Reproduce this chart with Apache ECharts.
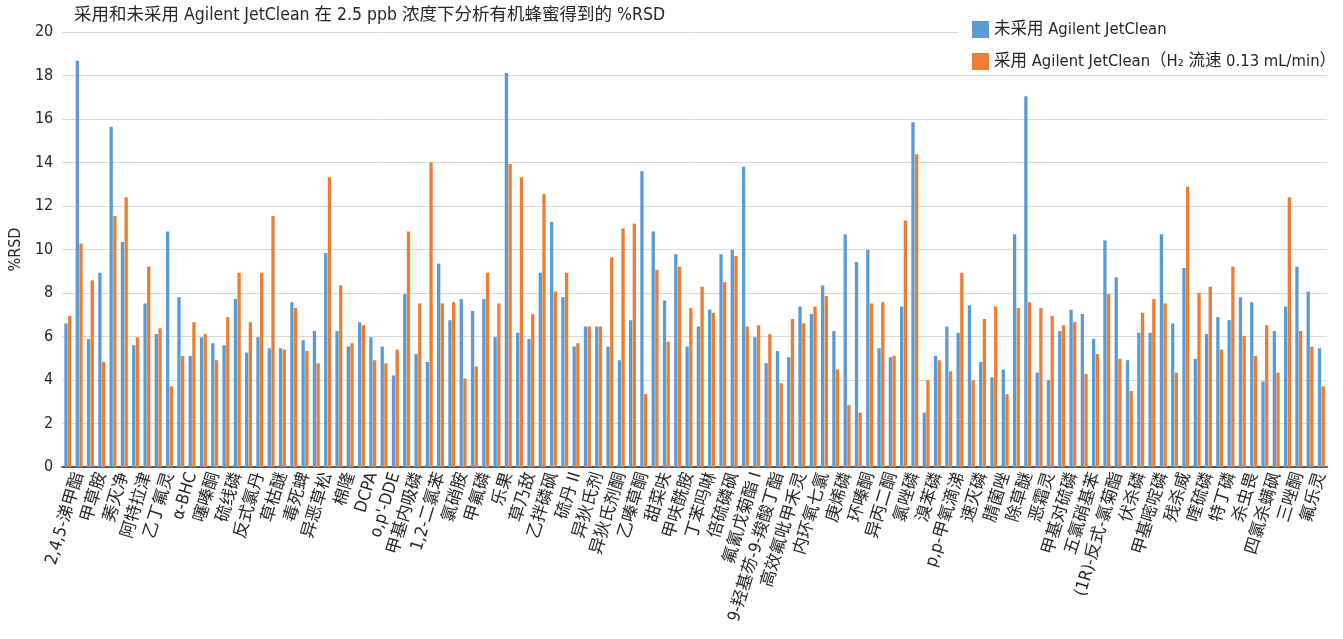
<!DOCTYPE html>
<html><head><meta charset="utf-8">
<script src="https://cdn.jsdelivr.net/npm/echarts@6/dist/echarts.min.js"></script>
<style>html,body{margin:0;padding:0;background:#fff}#c{width:1343px;height:639px}</style>
</head><body><div id="c"></div>
<script>
const titleText = '采用和未采用 Agilent JetClean 在 2.5 ppb 浓度下分析有机蜂蜜得到的 %RSD';
const seriesNames = ['未采用 Agilent JetClean', '采用 Agilent JetClean（H₂ 流速 0.13 mL/min）'];
// visible labels (every second category carries a label)
const labels = ['2,4,5-涕甲酯','甲草胺','莠灭净','阿特拉津','乙丁氟灵','α-BHC','噻嗪酮','硫线磷','反式氯丹','草枯醚',
  '毒死蜱','异恶草松','棉隆','DCPA',"o,p'-DDE",'甲基内吸磷','1,2-二氯苯','氯硝胺','甲氟磷','乐果',
  '草乃敌','乙拌磷砜','硫丹 II','异狄氏剂','异狄氏剂酮','乙嗪草酮','甜菜呋','甲呋酰胺','丁苯吗啉','倍硫磷砜',
  '氟氰戊菊酯 I','9-羟基芴-9-羧酸丁酯','高效氟吡甲禾灵','内环氧七氯','庚烯磷','环嗪酮','异丙二酮','氯唑磷','溴苯磷','p,p-甲氧滴涕',
  '速灭磷','腈菌唑','除草醚','恶霜灵','甲基对硫磷','五氯硝基苯','(1R)-反式-氯菊酯','伏杀磷','甲基嘧啶磷','残杀威',
  '喹硫磷','特丁磷','杀虫畏','四氯杀螨砜','三唑酮','氟乐灵'];
const without = [6.60,18.68,5.88,8.93,15.64,10.34,5.60,7.52,6.11,10.83,
  7.81,5.11,5.97,5.69,5.60,7.72,5.26,5.97,5.46,5.46,
  7.58,5.83,6.25,9.84,6.25,5.54,6.66,5.97,5.54,4.21,
  7.95,5.19,4.83,9.35,6.75,7.72,7.17,7.72,5.97,18.11,
  6.17,5.89,8.93,11.26,7.81,5.54,6.46,6.46,5.54,4.91,
  6.75,13.60,10.83,7.66,9.78,5.54,6.46,7.24,9.78,9.99,
  13.80,5.97,4.77,5.33,5.05,7.38,7.03,8.35,6.25,10.70,
  9.42,9.99,5.46,5.05,7.38,15.85,2.50,5.11,6.46,6.17,
  7.44,4.83,4.13,4.48,10.70,17.05,4.34,3.99,6.25,7.23,
  7.03,5.89,10.42,8.72,4.91,6.17,6.17,10.70,6.60,9.15,
  4.97,6.11,6.89,6.75,7.81,7.58,3.93,6.25,7.38,9.21,
  8.07,5.46];
const withJC = [6.95,10.27,8.58,4.83,11.54,12.40,5.97,9.21,6.38,3.71,
  5.11,6.66,6.11,4.91,6.89,8.93,6.66,8.93,11.54,5.40,
  7.31,5.33,4.77,13.32,8.35,5.69,6.52,4.91,4.77,5.40,
  10.83,7.52,14.01,7.52,7.58,4.07,4.62,8.93,7.52,13.93,
  13.32,7.03,12.55,8.07,8.93,5.69,6.46,6.46,9.64,10.97,
  11.19,3.35,9.07,5.76,9.21,7.31,8.29,7.09,8.50,9.70,
  6.46,6.52,6.11,3.85,6.81,6.60,7.38,7.86,4.48,2.85,
  2.50,7.52,7.58,5.11,11.33,14.38,3.99,4.91,4.40,8.93,
  3.99,6.81,7.38,3.35,7.31,7.58,7.31,6.95,6.52,6.66,
  4.27,5.19,7.95,4.97,3.50,7.09,7.72,7.52,4.34,12.89,
  8.01,8.29,5.40,9.21,6.03,5.11,6.52,4.34,12.40,6.25,
  5.54,3.71];

const categories = without.map((_, i) => (i % 2 === 1 ? labels[(i - 1) / 2] : ''));
const FONT = "'Liberation Sans Narrow','DejaVu Sans Condensed','Noto Sans CJK SC',sans-serif";

const chart = echarts.init(document.getElementById('c'), null, {renderer: 'canvas'});
chart.setOption({
  animation: false,
  backgroundColor: '#fff',
  textStyle: {fontFamily: FONT},
  title: {
    text: titleText, left: 69, top: 2,
    textStyle: {fontSize: 17.5, fontWeight: 'normal', color: '#262626', fontFamily: FONT}
  },
  legend: {
    orient: 'vertical', left: 958, top: 16,
    padding: [5, 10, 5, 14],
    backgroundColor: '#fff',
    itemWidth: 17, itemHeight: 17, itemGap: 15,
    icon: 'rect',
    textStyle: {fontSize: 16.5, color: '#262626', fontFamily: FONT},
    data: seriesNames
  },
  grid: {left: 57, right: 16, top: 32, bottom: 172},
  xAxis: {
    type: 'category',
    data: categories,
    axisLine: {lineStyle: {color: '#595959', width: 2}},
    axisTick: {show: false},
    axisLabel: {interval: 0, rotate: 73, fontSize: 17, color: '#262626', margin: 6, fontFamily: FONT}
  },
  yAxis: {
    type: 'value', min: 0, max: 20, interval: 2,
    name: '%RSD', nameLocation: 'middle', nameGap: 30,
    nameTextStyle: {fontSize: 16, color: '#262626', fontFamily: FONT},
    axisLine: {show: false}, axisTick: {show: false},
    axisLabel: {fontSize: 16, color: '#262626', margin: 9, fontFamily: FONT},
    splitLine: {lineStyle: {color: '#d9d9d9', width: 1}}
  },
  series: [
    {name: seriesNames[0], type: 'bar', data: without, barWidth: 3.3, barGap: '12%',
     itemStyle: {color: '#5b9bd5'}},
    {name: seriesNames[1], type: 'bar', data: withJC, barWidth: 3.3, barGap: '12%',
     itemStyle: {color: '#ed7d31'}}
  ]
});
</script>
</body></html>
